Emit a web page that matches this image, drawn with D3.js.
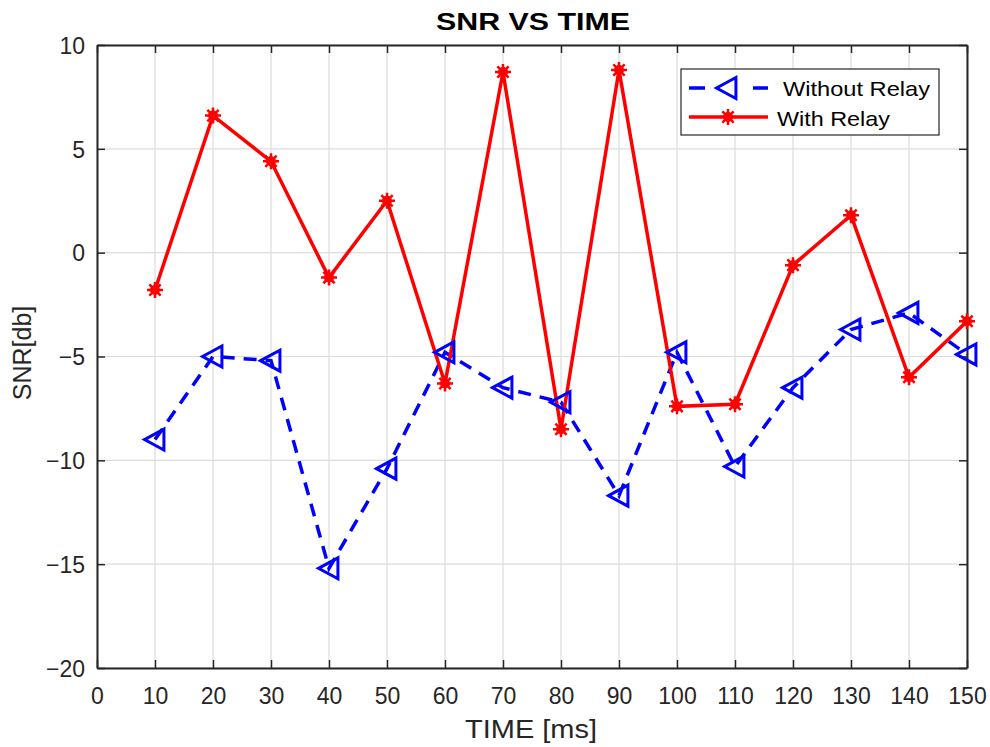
<!DOCTYPE html>
<html>
<head>
<meta charset="utf-8">
<script src="https://cdn.jsdelivr.net/npm/d3@7"></script>
<style>
  body { margin: 0; background: #fff; }
  svg { font-family: "Liberation Sans", Arial, sans-serif; }
</style>
</head>
<body>
<svg id="chart"></svg>
<script>
// time points (ms)
const times = [10, 20, 30, 40, 50, 60, 70, 80, 90, 100, 110, 120, 130, 140, 150];
// SNR [db] without relay
const withoutRelay = [-9.0, -5.0, -5.2, -15.2, -10.4, -4.8, -6.5, -7.2, -11.7, -4.8, -10.3, -6.5, -3.7, -2.9, -4.9];
// SNR [db] with relay
const withRelay = [-1.8, 6.6, 4.4, -1.2, 2.5, -6.3, 8.7, -8.5, 8.8, -7.4, -7.3, -0.6, 1.8, -6.0, -3.3];
const xTicks = d3.range(0, 151, 10);
const yTicks = [-20, -15, -10, -5, 0, 5, 10];

const width = 990, height = 747;
const margin = {top: 45, right: 23, bottom: 79, left: 97};
const innerW = width - margin.left - margin.right;
const innerH = height - margin.top - margin.bottom;

const svg = d3.select('#chart')
    .attr('width', width)
    .attr('height', height);

const chart = svg.append('g')
    .attr('transform', `translate(${margin.left}, ${margin.top})`);

const xscale = d3.scaleLinear().domain([0, 150]).range([0, innerW]);
const yscale = d3.scaleLinear().domain([-20, 10]).range([innerH, 0]);

// grid
chart.append('g').selectAll('line')
    .data(xTicks)
    .join('line')
    .attr('x1', d => xscale(d)).attr('x2', d => xscale(d))
    .attr('y1', 0).attr('y2', innerH)
    .attr('stroke', '#dcdcdc').attr('stroke-width', 1.2);
chart.append('g').selectAll('line')
    .data(yTicks)
    .join('line')
    .attr('y1', d => yscale(d)).attr('y2', d => yscale(d))
    .attr('x1', 0).attr('x2', innerW)
    .attr('stroke', '#dcdcdc').attr('stroke-width', 1.2);

// axes (inward ticks on all sides)
const tickLen = 8;
const axisColor = '#262626';
const xaxisBottom = d3.axisBottom(xscale).tickValues(xTicks).tickSizeInner(-tickLen).tickSizeOuter(0).tickPadding(20);
const xaxisTop = d3.axisTop(xscale).tickValues(xTicks).tickSizeInner(-tickLen).tickSizeOuter(0).tickFormat('');
const yaxisLeft = d3.axisLeft(yscale).tickValues(yTicks).tickSizeInner(-tickLen).tickSizeOuter(0).tickPadding(12);
const yaxisRight = d3.axisRight(yscale).tickValues(yTicks).tickSizeInner(-tickLen).tickSizeOuter(0).tickFormat('');

const gxb = chart.append('g').attr('transform', `translate(0, ${innerH})`).call(xaxisBottom);
const gxt = chart.append('g').call(xaxisTop);
const gyl = chart.append('g').call(yaxisLeft);
const gyr = chart.append('g').attr('transform', `translate(${innerW}, 0)`).call(yaxisRight);

[gxb, gxt, gyl, gyr].forEach(g => {
    g.select('.domain').attr('stroke', axisColor).attr('stroke-width', 2);
    g.selectAll('.tick line').attr('stroke', axisColor).attr('stroke-width', 1.5);
    g.selectAll('.tick text')
        .attr('fill', '#262626')
        .style('font-size', '23px')
        .style('font-family', '"Liberation Sans", Arial, sans-serif');
});
gyl.selectAll('.tick text').attr('dy', '0.36em');

// lines
const line = d3.line()
    .x((d, i) => xscale(times[i]))
    .y(d => yscale(d));

chart.append('path')
    .datum(withoutRelay)
    .attr('d', line)
    .attr('fill', 'none')
    .attr('stroke', '#0000ff')
    .attr('stroke-width', 3.5)
    .attr('stroke-dasharray', '13,9');

chart.append('path')
    .datum(withRelay)
    .attr('d', line)
    .attr('fill', 'none')
    .attr('stroke', '#ff0000')
    .attr('stroke-width', 3.5);

// markers
function triLeft(s) {
    return `M${-s},0 L${s * 0.85},${-s} L${s * 0.85},${s} Z`;
}
function star(s) {
    let p = '';
    for (let k = 0; k < 4; k++) {
        const a = k * Math.PI / 4;
        p += `M${-s * Math.cos(a)},${-s * Math.sin(a)} L${s * Math.cos(a)},${s * Math.sin(a)} `;
    }
    return p;
}

chart.append('g').selectAll('path')
    .data(withoutRelay)
    .join('path')
    .attr('transform', (d, i) => `translate(${xscale(times[i])}, ${yscale(d)})`)
    .attr('d', triLeft(10.5))
    .attr('fill', 'none')
    .attr('stroke', '#0000ff')
    .attr('stroke-width', 3);

const starG = chart.append('g').selectAll('g')
    .data(withRelay)
    .join('g')
    .attr('transform', (d, i) => `translate(${xscale(times[i])}, ${yscale(d)})`);
starG.append('circle').attr('r', 5).attr('fill', '#ff0000');
starG.append('path').attr('d', star(8)).attr('stroke', '#ff0000').attr('stroke-width', 2.5);

// title and axis labels
svg.append('text')
    .attr('x', 436)
    .attr('y', 30)
    .attr('textLength', 194)
    .attr('lengthAdjust', 'spacingAndGlyphs')
    .style('font-size', '23px')
    .style('font-weight', 'bold')
    .text('SNR VS TIME');

svg.append('text')
    .attr('x', 465)
    .attr('y', 738)
    .attr('textLength', 132)
    .attr('lengthAdjust', 'spacingAndGlyphs')
    .attr('fill', '#262626')
    .style('font-size', '25px')
    .text('TIME [ms]');

svg.append('text')
    .attr('transform', 'rotate(-90)')
    .attr('x', -353)
    .attr('y', 31)
    .attr('text-anchor', 'middle')
    .attr('fill', '#262626')
    .style('font-size', '25px')
    .text('SNR[db]');

// legend
const legend = svg.append('g').attr('transform', 'translate(681, 69)');
legend.append('rect')
    .attr('width', 258).attr('height', 66)
    .attr('fill', '#fff')
    .attr('stroke', '#262626').attr('stroke-width', 1.2);

legend.append('line')
    .attr('x1', 8).attr('x2', 87).attr('y1', 19).attr('y2', 19)
    .attr('stroke', '#0000ff').attr('stroke-width', 3.5)
    .attr('stroke-dasharray', '16,48,16');
legend.append('path')
    .attr('transform', 'translate(46, 19)')
    .attr('d', triLeft(10.5))
    .attr('fill', 'none').attr('stroke', '#0000ff').attr('stroke-width', 3);
legend.append('text')
    .attr('x', 102).attr('y', 27)
    .attr('textLength', 147)
    .attr('lengthAdjust', 'spacingAndGlyphs')
    .style('font-size', '21px')
    .text('Without Relay');

legend.append('line')
    .attr('x1', 8).attr('x2', 87).attr('y1', 48).attr('y2', 48)
    .attr('stroke', '#ff0000').attr('stroke-width', 3.5);
const lstar = legend.append('g').attr('transform', 'translate(47, 48)');
lstar.append('circle').attr('r', 5).attr('fill', '#ff0000');
lstar.append('path').attr('d', star(8)).attr('stroke', '#ff0000').attr('stroke-width', 2.5);
legend.append('text')
    .attr('x', 96).attr('y', 57)
    .attr('textLength', 113)
    .attr('lengthAdjust', 'spacingAndGlyphs')
    .style('font-size', '21px')
    .text('With Relay');
</script>
</body>
</html>
